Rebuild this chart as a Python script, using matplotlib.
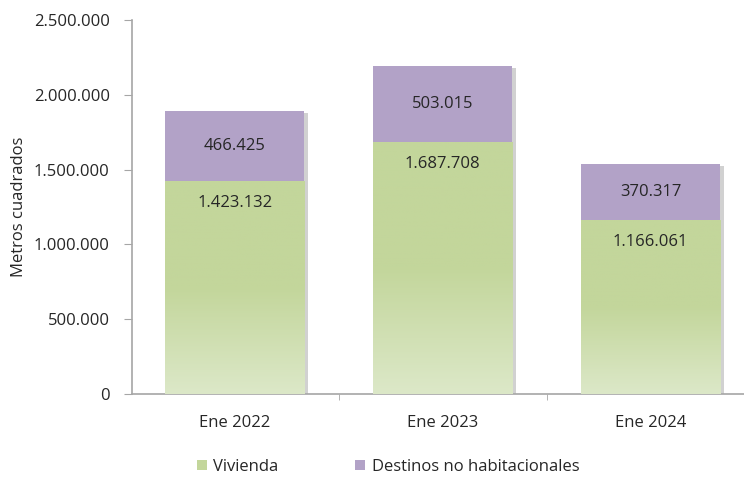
import numpy as np
import matplotlib
matplotlib.use("Agg")
import matplotlib.pyplot as plt
import matplotlib.patheffects as pe
from matplotlib.patches import Patch
from matplotlib.colors import LinearSegmentedColormap

plt.rcParams['font.family'] = ['Open Sans', 'DejaVu Sans']

# data
categories = ["Ene 2022", "Ene 2023", "Ene 2024"]
vivienda = [1423132, 1687708, 1166061]
no_habitacional = [466425, 503015, 370317]
yticks = [0, 500000, 1000000, 1500000, 2000000, 2500000]


def fmt(v):
    return f"{v:,}".replace(",", ".")


green_top = "#c3d69b"
green_bottom = "#dce8c8"
purple = "#b2a2c7"
text_col = "#262626"
axis_col = "#a6a6a6"
fs = 12

fig = plt.figure(figsize=(7.44, 4.78), dpi=100)
ax = fig.add_axes([132 / 744, 84 / 478, (744 - 132) / 744, 374 / 478])

x = np.arange(len(categories))
width = 0.67
shadow = [pe.SimplePatchShadow(offset=(3, -1), shadow_rgbFace="#8c8c8c", alpha=0.4), pe.Normal()]

# bars with base colour + shadow, then gradient image clipped to the green bars
bars_v = ax.bar(x, vivienda, width, color=green_top, zorder=2)
bars_p = ax.bar(x, no_habitacional, width, bottom=vivienda, color=purple, zorder=2)
for b in list(bars_v) + list(bars_p):
    b.set_path_effects(shadow)

cmap = LinearSegmentedColormap.from_list("g", [green_bottom, green_top, green_top])
grad = np.linspace(0, 1, 256).reshape(-1, 1)
for b, v in zip(bars_v, vivienda):
    im = ax.imshow(grad, cmap=cmap, origin="lower", aspect="auto",
                   extent=(b.get_x(), b.get_x() + b.get_width(), 0, v), zorder=3)
    im.set_clip_path(b)

# data labels
for i in range(len(categories)):
    ax.annotate(fmt(vivienda[i]), (x[i], vivienda[i]), xytext=(0, -22), textcoords="offset pixels",
                ha="center", va="center", fontsize=fs, color=text_col, zorder=5)
    ax.text(x[i], vivienda[i] + no_habitacional[i] / 2, fmt(no_habitacional[i]), ha="center", va="center",
            fontsize=fs, color=text_col, zorder=5)

ax.set_xlim(-0.494, 2.45)
ax.set_ylim(0, 2500000)
ax.set_yticks(yticks)
ax.set_yticklabels([fmt(t) for t in yticks])
ax.set_xticks(x)
ax.set_xticklabels(categories)
ax.set_xticks([0.5, 1.5], minor=True)

for s in ["top", "right"]:
    ax.spines[s].set_visible(False)
for s in ["left", "bottom"]:
    ax.spines[s].set_color(axis_col)
    ax.spines[s].set_linewidth(1.2)

ax.tick_params(axis="y", length=6, color=axis_col, labelsize=fs, labelcolor=text_col, pad=10)
ax.tick_params(axis="x", which="major", length=0, labelsize=fs, labelcolor=text_col, pad=15)
ax.tick_params(axis="x", which="minor", length=4, color=axis_col)

ax.set_ylabel("Metros cuadrados", fontsize=fs, color=text_col, labelpad=5)

handles = [Patch(facecolor=green_top, label="Vivienda"),
           Patch(facecolor=purple, label="Destinos no habitacionales")]
fig.legend(handles=handles, loc="center", bbox_to_anchor=(388 / 744, 11 / 478), ncol=2,
           frameon=False, fontsize=fs, handlelength=0.6, handleheight=0.6, handletextpad=0.4,
           columnspacing=4.6, labelcolor=text_col, borderaxespad=0, borderpad=0)

fig.savefig("out.png", dpi=100)
